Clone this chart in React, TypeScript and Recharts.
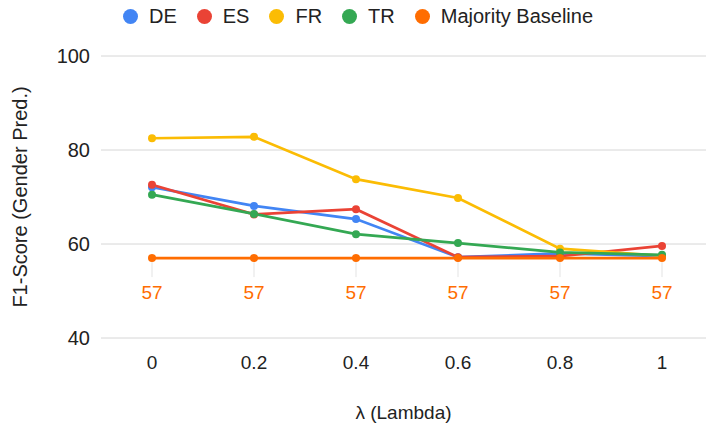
import React from 'react';
import { LineChart, Line, XAxis, YAxis, CartesianGrid, Label, LabelList } from 'recharts';

const lambdas = ['0', '0.2', '0.4', '0.6', '0.8', '1'];
const deScores = [72.1, 68.1, 65.3, 57.2, 58.0, 57.4];
const esScores = [72.6, 66.3, 67.4, 57.2, 57.4, 59.6];
const frScores = [82.5, 82.8, 73.8, 69.8, 59.0, 57.5];
const trScores = [70.5, 66.4, 62.1, 60.2, 58.2, 57.7];
const baselineScores = [57, 57, 57, 57, 57, 57];
const yTicks = [40, 60, 80, 100];

const SERIES = [
  { key: 'DE', name: 'DE', color: '#4285f4' },
  { key: 'ES', name: 'ES', color: '#ea4335' },
  { key: 'FR', name: 'FR', color: '#fbbc04' },
  { key: 'TR', name: 'TR', color: '#34a853' },
  { key: 'BASE', name: 'Majority Baseline', color: '#ff6d01' },
];

const FONT = '"Liberation Sans", Arial, sans-serif';

const data = lambdas.map((x, i) => ({
  x,
  DE: deScores[i],
  ES: esScores[i],
  FR: frScores[i],
  TR: trScores[i],
  BASE: baselineScores[i],
}));

// annotation with a little stem, like the sheets export
const BaselineLabel = (props: any) => {
  const { x, y, value } = props;
  return (
    <g>
      <line x1={x} x2={x} y1={y + 4} y2={y + 19} stroke="#e3e3e3" strokeWidth={1} />
      <text x={x} y={y + 41} textAnchor="middle" fill="#ff6d01" fontSize={19} fontFamily={FONT}>
        {Math.round(value)}
      </text>
    </g>
  );
};

const App = () => {
  return (
    <div style={{ position: 'absolute', left: 0, top: 0, width: 706, height: 427, background: '#fff' }}>
      <div
        style={{
          position: 'absolute',
          top: 5,
          left: 5,
          width: 706,
          display: 'flex',
          justifyContent: 'center',
          fontFamily: FONT,
          fontSize: 20,
          color: '#222',
        }}
      >
        {SERIES.map((s, i) => (
          <div key={s.key} style={{ display: 'flex', alignItems: 'center', marginRight: i < SERIES.length - 1 ? 20 : 0 }}>
            <span
              style={{ width: 15, height: 15, borderRadius: '50%', background: s.color, display: 'inline-block', marginRight: 11 }}
            />
            <span>{s.name}</span>
          </div>
        ))}
      </div>
      <LineChart width={706} height={427} data={data} margin={{ top: 56, right: 0, left: 0, bottom: 8 }}>
        <CartesianGrid vertical={false} stroke="#d6d6d6" strokeWidth={1} />
        <XAxis
          dataKey="x"
          type="category"
          height={81}
          padding={{ left: 51, right: 44 }}
          axisLine={false}
          tickLine={false}
          tickSize={0}
          tickMargin={18}
          tick={{ fill: '#222', fontSize: 19, fontFamily: FONT }}
        >
          <Label
            content={(p: any) => {
              const vb = p.viewBox;
              return (
                <text x={vb.x + vb.width / 2} y={419} textAnchor="middle" fill="#222" fontSize={19} fontFamily={FONT}>
                  λ (Lambda)
                </text>
              );
            }}
          />
        </XAxis>
        <YAxis
          width={101}
          domain={[40, 100]}
          ticks={yTicks}
          axisLine={false}
          tickLine={false}
          tickSize={0}
          tickMargin={11}
          tick={{ fill: '#222', fontSize: 20, fontFamily: FONT }}
        >
          <Label
            content={(p: any) => {
              const vb = p.viewBox;
              const cy = vb.y + vb.height / 2;
              return (
                <text
                  x={20}
                  y={cy}
                  transform={`rotate(-90 20 ${cy})`}
                  textAnchor="middle"
                  dominantBaseline="central"
                  fill="#222"
                  fontSize={20}
                  fontFamily={FONT}
                >
                  F1-Score (Gender Pred.)
                </text>
              );
            }}
          />
        </YAxis>
        {SERIES.map((s) => (
          <Line
            key={s.key}
            dataKey={s.key}
            name={s.name}
            stroke={s.color}
            strokeWidth={2.7}
            dot={{ r: 4, fill: s.color, stroke: s.color, strokeWidth: 0 }}
            activeDot={false}
            isAnimationActive={false}
          >
            {s.key === 'BASE' && <LabelList dataKey="BASE" content={BaselineLabel} />}
          </Line>
        ))}
      </LineChart>
    </div>
  );
};

export default App;
